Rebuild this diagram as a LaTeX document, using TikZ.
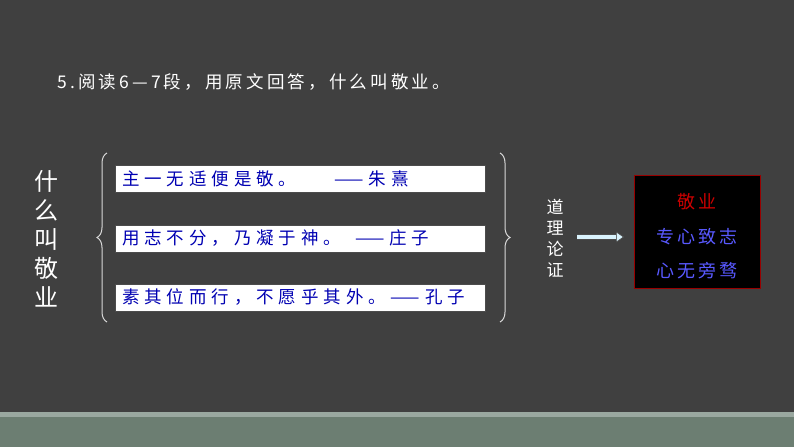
\documentclass[tikz,border=0pt]{standalone}
\usepackage{fontspec}
\newfontfamily\cjk{Noto Sans CJK SC}
\newfontfamily\cjkw[LetterSpace=28]{Noto Sans CJK SC}
\newfontfamily\cjkt[LetterSpace=18]{Noto Sans CJK SC}
\usetikzlibrary{decorations.pathreplacing,arrows.meta}
\definecolor{bg}{HTML}{404040}
\definecolor{band}{HTML}{6C7E72}
\definecolor{bandline}{HTML}{9AA8A0}
\begin{document}
\begin{tikzpicture}[x=1pt,y=-1pt,
  quote/.style={draw=black!70,fill=white,minimum width=370pt,minimum height=27pt,anchor=north west,inner sep=0pt},
  qtxt/.style={font=\cjkw\fontsize{17.5}{20}\selectfont,text=blue!70!black,anchor=west,inner sep=0pt},
  rtxt/.style={font=\cjkt\fontsize{18}{20}\selectfont},
  brace/.style={draw=white!85!black,line width=1pt,decorate,decoration={brace,amplitude=10pt}}]
\fill[bg] (0,0) rectangle (794,447);
\fill[band] (0,417) rectangle (794,447);
\fill[bandline] (0,412) rectangle (794,417);
\node[font=\cjkt\fontsize{17.5}{20}\selectfont,text=white,anchor=west,inner sep=0pt] (title) at (57,82) {5.阅读6—7段，用原文回答，什么叫敬业。};
\node[quote] (b1) at (115,165) {};
\node[quote] (b2) at (115,225) {};
\node[quote] (b3) at (115,284) {};
\node[qtxt] (t1) at (122,178.5) {主一无适便是敬。\hspace{38pt}——朱熹};
\node[qtxt] (t2) at (122,238.5) {用志不分，乃凝于神。\hspace{14pt}——庄子};
\node[qtxt] (t3) at (122,297.5) {素其位而行，不愿乎其外。——孔子};
\node[font=\cjk\fontsize{24}{29}\selectfont,text=white,align=center] (lq) at (46,239) {什\\么\\叫\\敬\\业};
\draw[brace] (107,322) -- (107,153);
\draw[brace] (500,153) -- (500,322);
\node[font=\cjk\fontsize{17}{21}\selectfont,text=white,align=center] (dl) at (555,238) {道\\理\\论\\证};
\node[draw=red!60!black,fill=black,line width=1pt,minimum width=126pt,minimum height=113pt,anchor=north west] (res) at (634,175) {};
\node[rtxt,text=red!80!black] (r1) at (697,202) {敬业};
\node[rtxt,text=blue!65!white] (r2) at (697,237) {专心致志};
\node[rtxt,text=blue!65!white] (r3) at (697,271) {心无旁骛};
\coordinate (as) at (577,237);
\coordinate (ae) at (624,237);
\draw[draw=gray!60!black,double=cyan!15!white,double distance=4pt,line width=0.6pt,-{Triangle[length=8pt,width=11pt,fill=cyan!15!white]}] (as) -- (ae);
\end{tikzpicture}
\end{document}
